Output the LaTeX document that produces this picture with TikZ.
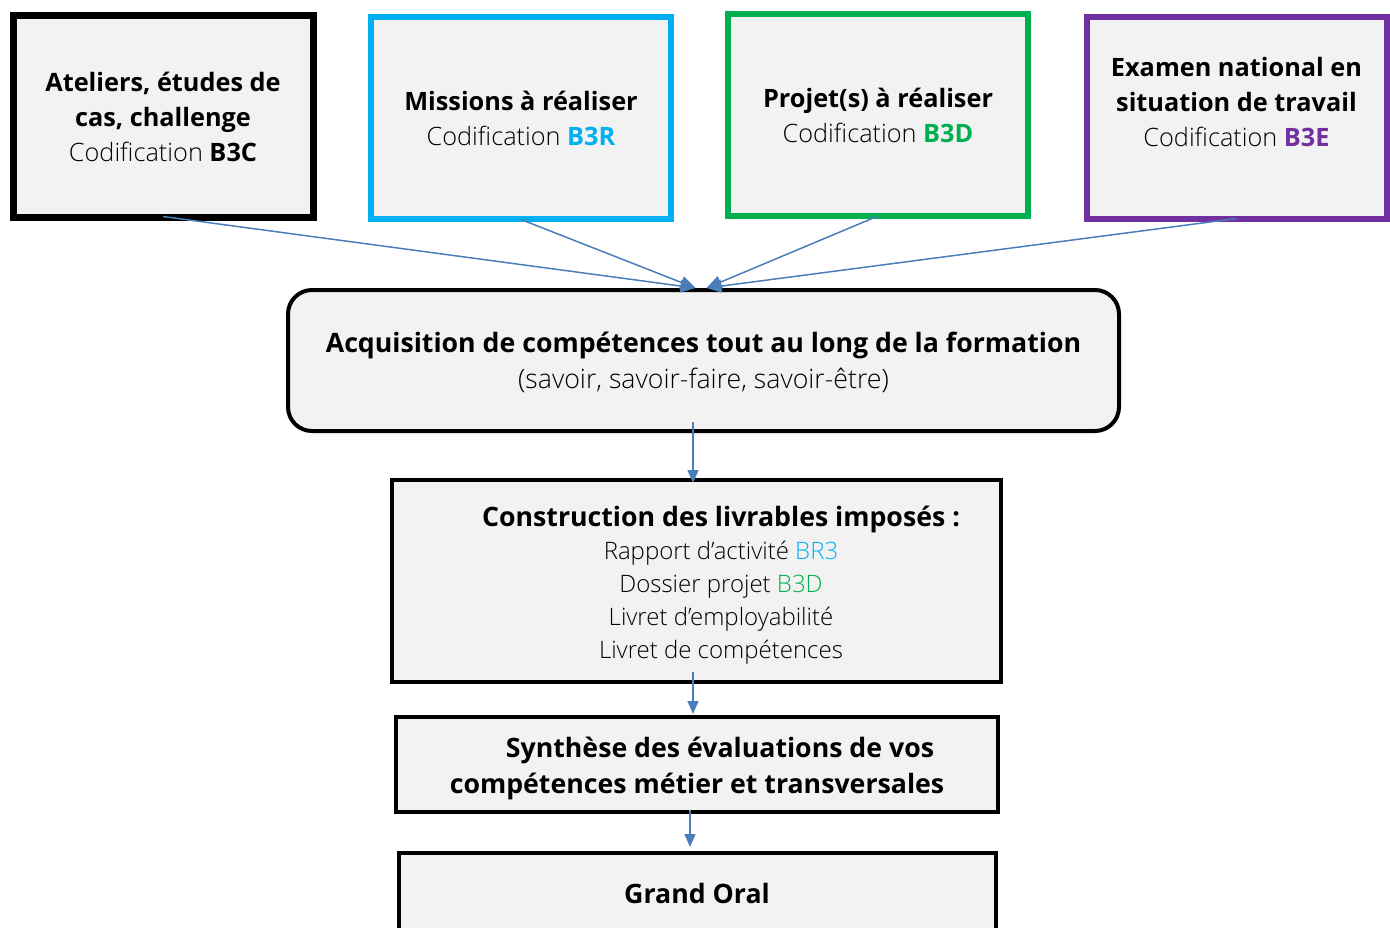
\documentclass[tikz,border=0pt]{standalone}
\usepackage{fontspec}
\setmainfont{Open Sans}
\newfontfamily\lightfont{Open Sans Light}
\usetikzlibrary{arrows.meta}

\definecolor{boxgray}{HTML}{F2F2F2}
\definecolor{cyanB}{HTML}{00B0F0}
\definecolor{greenB}{HTML}{00B050}
\definecolor{purpleB}{HTML}{7030A0}
\definecolor{arrowblue}{HTML}{4A7EBB}

\newcommand{\smalllight}{\lightfont\fontsize{24}{33}\selectfont}

\begin{document}
\begin{tikzpicture}[
    x=1pt, y=-1pt,
    box/.style={
        draw,
        fill=boxgray,
        line width=4pt,
        inner sep=0pt
    },
    topbox/.style={
        box,
        line width=6pt,
        minimum width=300pt,
        minimum height=202pt
    },
    txt/.style={
        align=center,
        inner sep=0pt,
        font=\fontsize{25.3}{35}\selectfont
    },
    bigtxt/.style={
        txt,
        font=\fontsize{26.7}{36}\selectfont
    },
    arrow/.style={
        -{Triangle[length=13pt, width=11pt]},
        draw=arrowblue,
        line width=1.5pt
    }
]
\useasboundingbox (0,0) rectangle (1390,927);

% top row
\node[topbox, line width=7pt] (ateliers) at (163,116) {};
\node[topbox, draw=cyanB] (missions) at (521,117.5) {};
\node[topbox, draw=greenB] (projets) at (878,115) {};
\node[topbox, draw=purpleB] (examen) at (1236.5,117.5) {};

\node[txt] (ateliers-t) at (163,117)
{\textbf{Ateliers, études de}\\ \textbf{cas, challenge}\\ {\lightfont Codification} \textbf{B3C}};
\node[txt] (missions-t) at (521,118.5)
{\textbf{Missions à réaliser}\\ {\lightfont Codification} \textbf{\color{cyanB}B3R}};
\node[txt] (projets-t) at (878,115.5)
{\textbf{Projet(s) à réaliser}\\ {\lightfont Codification} \textbf{\color{greenB}B3D}};
\node[txt] (examen-t) at (1236.5,102.5)
{\textbf{Examen national en}\\ \textbf{situation de travail}\\ {\lightfont Codification} \textbf{\color{purpleB}B3E}};

% middle
\node[box, rounded corners=24pt, minimum width=831pt, minimum height=141pt]
    (acquisition) at (703.5,360.5) {};
\node[bigtxt] (acquisition-t) at (703.5,362.5)
{\textbf{Acquisition de compétences tout au long de la formation}\\ {\lightfont (savoir, savoir-faire, savoir-être)}};

\node[box, minimum width=609pt, minimum height=202pt] (livrables) at (696.5,581) {};
\node[bigtxt, font=\fontsize{26.7}{33}\selectfont] (livrables-t) at (721,585)
{\textbf{Construction des livrables imposés :}\\ \smalllight Rapport d’activité {\color{cyanB}BR3}\\
 \smalllight Dossier projet {\color{greenB}B3D}\\ \smalllight Livret d’employabilité\\ \smalllight Livret de compétences};

\node[box, minimum width=602pt, minimum height=95pt] (synthese) at (697,764.5) {};
\node[bigtxt] (synthese-t) at (697,768.5)
{\hspace*{46pt}\textbf{Synthèse des évaluations de vos}\\ \textbf{compétences métier et transversales}};

\node[box, minimum width=597pt, minimum height=150pt] (oral) at (697.5,928) {};
\node[bigtxt] (oral-t) at (697,893) {\textbf{Grand Oral}};

% arrows
\draw[arrow, -{Triangle[length=15pt, width=13pt]}] ([yshift=4pt]ateliers.south) -- ([xshift=-8pt]acquisition.north);
\draw[arrow, -{Triangle[length=15pt, width=13pt]}] ([yshift=2pt]missions.south) -- ([xshift=-8pt]acquisition.north);
\draw[arrow, -{Triangle[length=15pt, width=13pt]}] ([yshift=3pt]projets.south) -- ([xshift=3pt]acquisition.north);
\draw[arrow, -{Triangle[length=15pt, width=13pt]}] ([yshift=3pt]examen.south) -- ([xshift=3pt]acquisition.north);

\draw[arrow] ([xshift=-10.5pt, yshift=11pt]acquisition.south) -- ([xshift=-3.5pt, yshift=-5pt]livrables.north);
\draw[arrow] ([xshift=-3.5pt, yshift=12pt]livrables.south) -- ([xshift=-4pt, yshift=1pt]synthese.north);
\draw[arrow] ([xshift=-7pt, yshift=4pt]synthese.south) -- ([xshift=-7.5pt, yshift=4pt]oral.north);

\end{tikzpicture}
\end{document}
